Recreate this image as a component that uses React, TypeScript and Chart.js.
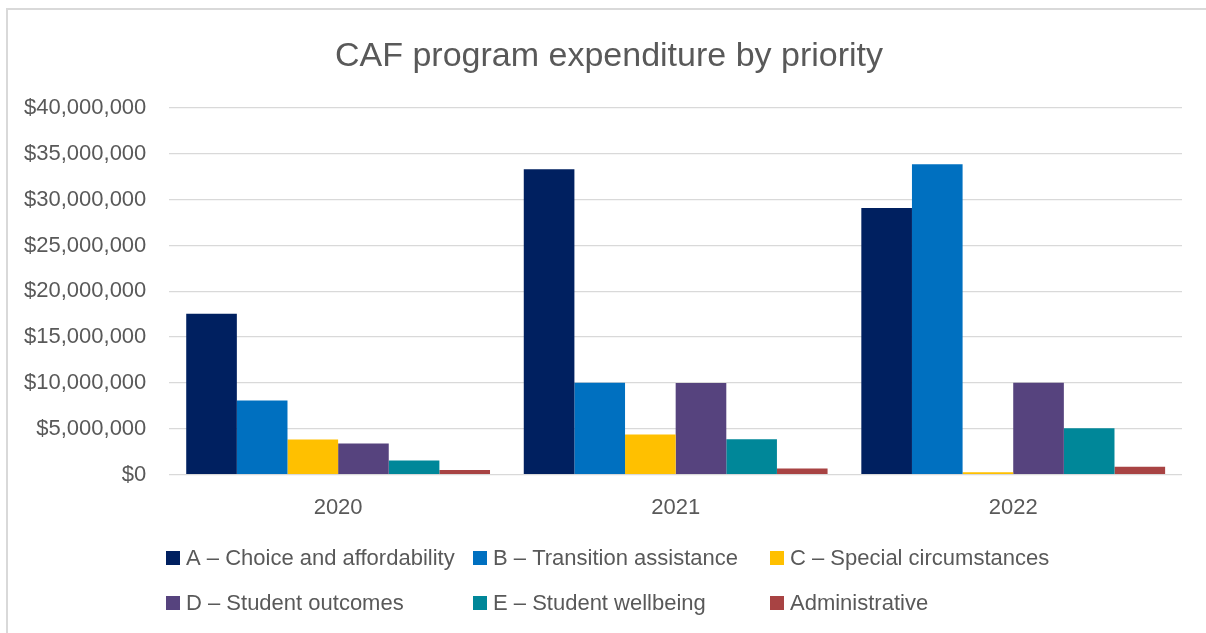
import React, { useEffect, useRef } from "react";
import { Chart, registerables } from "chart.js";

Chart.register(...registerables);

const years = ["2020", "2021", "2022"];
const seriesNames = [
  "A – Choice and affordability",
  "B – Transition assistance",
  "C – Special circumstances",
  "D – Student outcomes",
  "E – Student wellbeing",
  "Administrative",
];
const choiceAffordability = [17560000, 33330000, 29100000];
const transitionAssistance = [8090000, 10020000, 33850000];
const specialCircumstances = [3830000, 4370000, 250000];
const studentOutcomes = [3390000, 10000000, 10020000];
const studentWellbeing = [1530000, 3860000, 5060000];
const administrative = [510000, 660000, 870000];
const seriesColors = ["#002060", "#0070C0", "#FFC000", "#56437E", "#008799", "#A84343"];
const yTicks = [0, 5000000, 10000000, 15000000, 20000000, 25000000, 30000000, 35000000, 40000000];
const chartTitle = "CAF program expenditure by priority";

const FONT = "'Liberation Sans', Arial, sans-serif";
const TEXT = "#595959";

const gridLegend = {
  id: "gridLegend",
  afterDraw(chart: any) {
    const ctx = chart.ctx;
    const cols = [166, 473, 770];
    const rows = [558, 603];
    ctx.save();
    ctx.font = `34px ${FONT}`;
    ctx.fillStyle = TEXT;
    ctx.textAlign = "center";
    ctx.textBaseline = "middle";
    ctx.fillText(chartTitle, 609, 57);
    ctx.font = `22px ${FONT}`;
    ctx.textAlign = "left";
    chart.data.datasets.forEach((ds: any, i: number) => {
      const x = cols[i % 3];
      const y = rows[Math.floor(i / 3)];
      ctx.fillStyle = ds.backgroundColor;
      ctx.fillRect(x, y - 7, 14, 14);
      ctx.fillStyle = TEXT;
      ctx.fillText(ds.label, x + 20, y + 1);
    });
    ctx.restore();
  },
};

export default function App() {
  const ref = useRef<HTMLCanvasElement>(null);
  useEffect(() => {
    if (!ref.current) return;
    const values = [
      choiceAffordability,
      transitionAssistance,
      specialCircumstances,
      studentOutcomes,
      studentWellbeing,
      administrative,
    ];
    const chart = new Chart(ref.current, {
      type: "bar",
      data: {
        labels: years,
        datasets: values.map((v, i) => ({
          label: seriesNames[i],
          data: v,
          backgroundColor: seriesColors[i],
          borderWidth: 0,
          categoryPercentage: 0.9,
          barPercentage: 1,
        })),
      },
      options: {
        animation: false,
        responsive: false,
        layout: { padding: { left: 1, right: 24, top: 108, bottom: 92 } },
        plugins: {
          legend: { display: false },
          tooltip: { enabled: false },
          title: { display: false },
        },
        scales: {
          x: {
            grid: { display: false, drawTicks: false },
            border: { display: false },
            ticks: { color: TEXT, font: { family: FONT, size: 22 }, padding: 20 },
          },
          y: {
            min: 0,
            max: 40000000,
            afterBuildTicks: (s: any) => {
              s.ticks = yTicks.map((v) => ({ value: v }));
            },
            grid: { color: "#D9D9D9", lineWidth: 1.3, drawTicks: false },
            border: { display: false },
            ticks: {
              color: TEXT,
              font: { family: FONT, size: 22 },
              padding: 23,
              callback: (v: any) => "$" + Number(v).toLocaleString("en-US"),
            },
          },
        },
      },
      plugins: [gridLegend],
    });
    return () => chart.destroy();
  }, []);
  return (
    <div style={{ position: "absolute", left: 0, top: 0, width: 1206, height: 633, overflow: "hidden", background: "#fff" }}>
      <div
        style={{
          position: "absolute",
          left: 6,
          top: 8,
          width: 1220,
          height: 700,
          border: "2px solid #D9D9D9",
          boxSizing: "border-box",
        }}
      />
      <canvas ref={ref} width={1206} height={633} style={{ position: "absolute", left: 0, top: 0 }} />
    </div>
  );
}
